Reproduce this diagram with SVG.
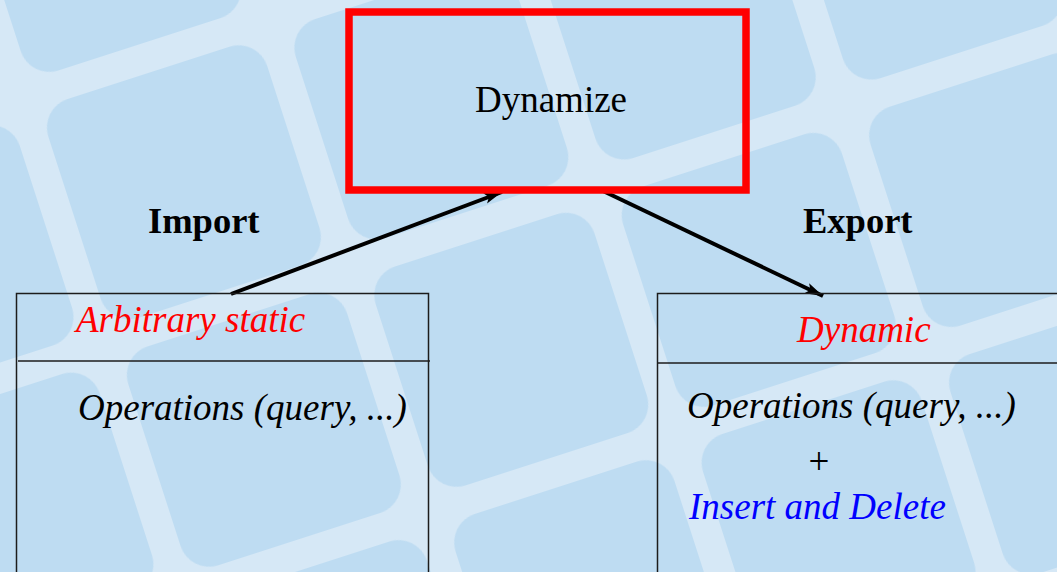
<svg xmlns="http://www.w3.org/2000/svg" width="1057" height="572" viewBox="0 0 1057 572">
  <style>
    .serif { font-family: "Liberation Serif", "Times New Roman", serif; font-size: 37px; }
    .label { font-weight: bold; font-size: 36.5px; fill: #000; }
    .ital { font-style: italic; }
    .frame { fill: none; stroke: #1c1c1c; stroke-width: 1.5; }
    .conn { fill: none; stroke: #000; stroke-width: 4; marker-end: url(#head); }
  </style>
  <defs>
    <!-- tilted grid of rounded tiles used as the slide backdrop -->
    <pattern id="tiles" patternUnits="userSpaceOnUse" x="-11" y="100" width="260" height="260" patternTransform="rotate(-17.9)">
      <rect x="15" y="15" width="230" height="230" rx="30" ry="30" fill="#bedcf2"/>
    </pattern>
    <marker id="head" markerUnits="userSpaceOnUse" markerWidth="24" markerHeight="16" refX="18" refY="6" orient="auto" viewBox="0 0 24 12">
      <path d="M0,0.5 L18,6 L0,11.5 L4,6 Z" fill="#000"/>
    </marker>
  </defs>

  <!-- backdrop -->
  <rect x="0" y="0" width="1057" height="572" fill="#d6e8f6"/>
  <rect x="0" y="0" width="1057" height="572" fill="url(#tiles)"/>

  <!-- connectors -->
  <g id="connectors">
    <path class="conn" d="M231,294 L502,192"/>
    <path class="conn" d="M601,190 L823,296"/>
  </g>

  <!-- central operation -->
  <g id="dynamize">
    <rect x="349" y="12" width="397" height="178" fill="none" stroke="#ff0000" stroke-width="7.5"/>
    <text class="serif" x="551" y="112" text-anchor="middle" fill="#000">Dynamize</text>
  </g>

  <g id="import-label">
    <text class="serif label" x="148" y="233">Import</text>
  </g>

  <g id="export-label">
    <text class="serif label" x="803" y="233">Export</text>
  </g>

  <!-- input structure -->
  <g id="static-structure">
    <path class="frame" d="M16.5,572 V293.5 H428.5 V572"/>
    <path class="frame" d="M18,361 H430"/>
    <text class="serif ital" x="76" y="332" fill="#ff0000">Arbitrary static</text>
    <text class="serif ital" x="78" y="420" fill="#000">Operations (query, ...)</text>
  </g>

  <!-- output structure -->
  <g id="dynamic-structure">
    <path class="frame" d="M657.5,572 V293.5 H1057"/>
    <path class="frame" d="M657.5,363 H1057"/>
    <text class="serif ital" x="797" y="342" fill="#ff0000">Dynamic</text>
    <text class="serif ital" x="687" y="418" fill="#000">Operations (query, ...)</text>
    <text class="serif" x="819" y="474" text-anchor="middle" fill="#000">+</text>
    <text class="serif ital" x="689" y="519" fill="#0000ff">Insert and Delete</text>
  </g>
</svg>
